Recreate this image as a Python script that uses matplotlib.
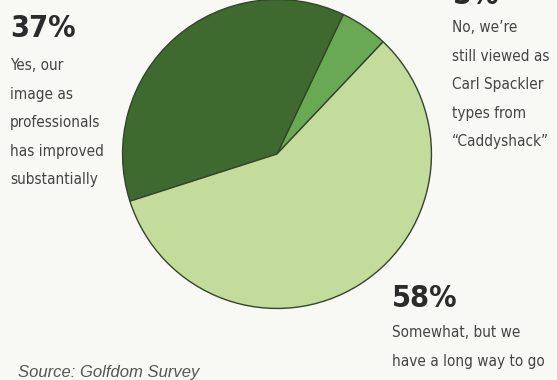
import matplotlib
matplotlib.use("Agg")
import matplotlib.pyplot as plt

# survey shares
shares = [5, 37, 58]
share_labels = ["5%", "37%", "58%"]
colors = ["#6aa953", "#3e6a2f", "#c3dc9c"]

label_5 = "No, we\u2019re\nstill viewed as\nCarl Spackler\ntypes from\n\u201cCaddyshack\u201d"
label_37 = "Yes, our\nimage as\nprofessionals\nhas improved\nsubstantially"
label_58 = "Somewhat, but we\nhave a long way to go"
source = "Source: Golfdom Survey"

W, H = 557, 380
bg = "#f8f8f5"
narrow = ["DejaVu Sans"]

fig = plt.figure(figsize=(W / 100, H / 100), dpi=100, facecolor=bg)

# pie centre at (277,154) px, radius 156 px
cx, cy, r = 277, 154, 156
ax = fig.add_axes([(cx - r) / W, (H - cy - r) / H, 2 * r / W, 2 * r / H])
ax.pie(shares, colors=colors, startangle=46.6, counterclock=True,
       wedgeprops=dict(edgecolor="#34452b", linewidth=1.0))
ax.set_xlim(-1.01, 1.01)
ax.set_ylim(-1.01, 1.01)
ax.set_aspect("equal")
ax.axis("off")


def put(x, y, s, **kw):
    fig.text(x / W, 1 - y / H, s, family=narrow, fontstretch="condensed", **kw)


# big percentages
for x, y, s in [(10, 37, share_labels[1]), (453, 4, share_labels[0]),
                (392, 307, share_labels[2])]:
    put(x, y, s, fontsize=22, fontweight="bold", color="#2b2b2b", va="baseline")

# descriptions
txt = dict(fontsize=11, color="#444444", va="top", linespacing=2.13)
put(10, 58, label_37, **txt)
put(452, 20, label_5, **txt)
put(392, 325, label_58, **txt)

fig.text(18 / W, 1 - 377 / H, source, fontsize=12, style="italic", color="#555555",
         family=["Liberation Sans", "DejaVu Sans"], va="baseline")

fig.savefig("out.png", dpi=100, facecolor=bg)
